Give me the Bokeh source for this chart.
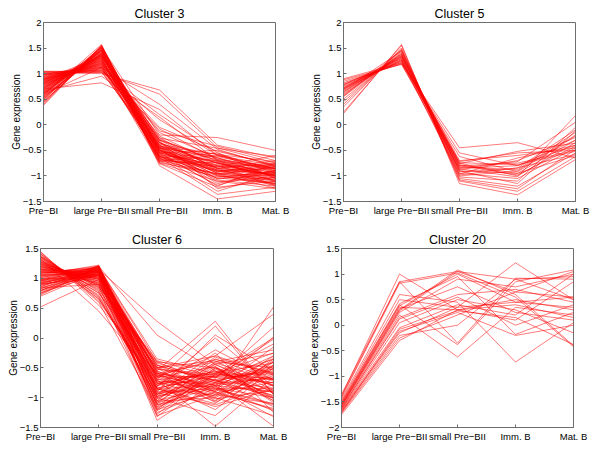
from bokeh.plotting import figure
from bokeh.models import FixedTicker, LinearAxis, Range1d
from bokeh.layouts import column, row
from bokeh.embed import file_html
from bokeh.resources import INLINE

stages = ["Pre−BI", "large Pre−BII", "small Pre−BII", "Imm. B", "Mat. B"]
stage_pos = [1, 2, 3, 4, 5]

# each row: [Pre-BI, large Pre-BII, small Pre-BII, Imm. B, Mat. B]
cluster3 = [
    [0.40, 1.55, -0.55, -0.80, -1.00], [0.45, 1.50, -0.45, -0.95, -0.85],
    [0.50, 1.48, -0.60, -0.70, -1.10], [0.55, 1.45, -0.50, -1.05, -0.90],
    [0.60, 1.42, -0.35, -0.85, -1.20], [0.62, 1.40, -0.70, -0.60, -0.80],
    [0.65, 1.38, -0.40, -0.75, -1.00], [0.68, 1.35, -0.55, -1.20, -0.75],
    [0.70, 1.33, -0.25, -0.90, -0.95], [0.72, 1.30, -0.65, -0.55, -1.05],
    [0.75, 1.28, -0.45, -1.00, -1.15], [0.78, 1.25, -0.30, -0.70, -0.85],
    [0.80, 1.22, -0.50, -0.85, -0.70], [0.82, 1.20, -0.75, -1.10, -1.25],
    [0.85, 1.18, -0.15, -0.65, -0.90], [0.88, 1.15, -0.40, -0.95, -1.00],
    [0.90, 1.12, -0.55, -0.50, -0.80], [0.92, 1.10, -0.35, -0.80, -1.10],
    [0.95, 1.08, -0.60, -1.30, -0.95], [0.98, 1.05, 0.10, -0.60, -0.85],
    [1.00, 1.03, -0.45, -0.75, -1.05], [1.02, 1.00, 0.68, -0.40, -0.65],
    [1.05, 1.02, 0.60, -0.45, -0.75], [0.70, 0.82, 0.30, -0.60, -0.90],
    [0.65, 0.95, 0.15, -0.70, -1.00], [0.58, 1.57, -0.80, -1.45, -1.30],
    [0.48, 1.52, -0.20, -0.25, -0.50], [0.52, 1.46, -0.65, -0.90, -1.15],
    [0.74, 1.36, -0.48, -1.15, -0.88], [0.86, 1.26, -0.38, -0.58, -0.72],
    [0.94, 1.16, -0.52, -0.88, -1.08], [0.66, 1.44, -0.58, -0.78, -0.98],
    [0.76, 1.32, -0.42, -0.68, -0.82], [0.84, 1.24, -0.62, -0.98, -1.18],
    [0.42, 1.54, -0.72, -1.02, -0.92], [0.96, 1.14, -0.05, -0.52, -0.78],
    [0.56, 1.40, -0.32, -1.25, -1.02], [0.80, 1.30, -0.68, -0.82, -0.60],
    [1.04, 1.06, 0.20, -0.55, -0.95], [0.90, 1.20, -0.28, -0.72, -1.12],
    [0.62, 1.50, -0.46, -0.62, -0.86], [0.72, 1.42, -0.56, -1.08, -1.20],
    [0.88, 1.34, -0.36, -0.92, -0.76], [0.98, 1.18, -0.12, -0.42, -0.70],
    [0.46, 1.46, -0.74, -0.96, -1.06], [0.60, 1.12, 0.40, -0.48, -0.82],
    [0.82, 1.36, -0.64, -1.36, -1.22], [0.54, 1.38, -0.44, -0.86, -0.96],
    [0.38, 1.56, -0.62, -0.88, -1.12], [0.44, 1.53, -0.52, -0.74, -0.94],
    [0.50, 1.51, -0.40, -1.12, -1.02], [0.53, 1.49, -0.68, -0.82, -0.78],
    [0.57, 1.47, -0.48, -0.94, -1.16], [0.61, 1.45, -0.30, -0.66, -0.92],
    [0.64, 1.41, -0.62, -1.00, -1.08], [0.67, 1.39, -0.50, -0.72, -0.86],
    [0.71, 1.37, -0.70, -0.96, -1.24], [0.73, 1.34, -0.34, -0.84, -0.98],
    [0.77, 1.31, -0.58, -1.18, -0.90], [0.79, 1.27, -0.44, -0.64, -1.04],
    [0.83, 1.23, -0.54, -0.90, -0.84], [0.87, 1.21, -0.22, -0.76, -0.94],
    [0.89, 1.17, -0.66, -1.04, -1.14], [0.93, 1.13, -0.42, -0.58, -0.88],
    [0.97, 1.10, -0.30, -0.86, -0.74], [1.01, 1.07, -0.08, -0.68, -1.00],
    [1.03, 1.04, -0.50, -0.98, -0.82], [0.99, 1.12, -0.62, -0.80, -1.18],
    [0.69, 1.46, -0.76, -1.22, -1.10], [0.81, 1.33, -0.26, -0.46, -0.62],
    [0.91, 1.25, -0.46, -1.06, -0.96], [0.59, 1.52, -0.54, -0.92, -0.80],
    [0.85, 1.29, -0.72, -0.74, -1.02],
]

cluster5 = [
    [0.22, 1.57, -1.15, -1.37, -0.68], [0.25, 1.55, -1.10, -1.30, -0.62],
    [0.35, 1.50, -1.05, -1.20, -0.55], [0.40, 1.48, -0.95, -1.05, -0.45],
    [0.45, 1.45, -0.90, -0.95, -0.30], [0.50, 1.42, -0.85, -0.80, -0.40],
    [0.55, 1.40, -1.00, -0.90, -0.20], [0.58, 1.38, -0.80, -0.75, -0.50],
    [0.60, 1.36, -0.75, -1.00, -0.35], [0.62, 1.35, -0.92, -0.85, -0.10],
    [0.65, 1.33, -0.70, -0.60, -0.45], [0.67, 1.32, -0.88, -0.70, -0.25],
    [0.70, 1.30, -0.78, -0.95, -0.60], [0.72, 1.28, -1.02, -1.10, -0.05],
    [0.74, 1.27, -0.72, -0.55, -0.50], [0.76, 1.25, -0.82, -0.88, -0.15],
    [0.78, 1.24, -0.96, -0.65, -0.40], [0.80, 1.22, -0.55, -0.80, -0.30],
    [0.82, 1.20, -0.45, -0.35, -0.65], [0.85, 1.19, -0.86, -1.02, 0.18],
    [0.88, 1.18, -0.74, -0.78, -0.52], [0.90, 1.21, -0.62, -0.92, -0.22],
    [0.68, 1.44, -1.08, -1.25, -0.48], [0.64, 1.38, -0.84, -0.72, 0.05],
    [0.56, 1.46, -0.98, -0.84, -0.58], [0.72, 1.34, -0.76, -0.52, -0.36],
    [0.78, 1.30, -0.90, -1.15, -0.12], [0.70, 1.26, -0.80, -0.98, -0.42],
]

cluster6 = [
    [1.45, 0.55, -0.60, -0.90, -1.20], [1.42, 0.60, -1.20, -0.50, -0.80],
    [1.40, 0.65, -0.85, -1.10, -0.40], [1.38, 0.70, -1.00, -0.70, -1.00],
    [1.36, 0.75, -0.50, -0.30, -0.60], [1.35, 0.80, -1.30, -0.95, -1.10],
    [1.33, 0.45, -0.70, -0.60, 0.00], [1.32, 0.85, -0.40, -0.80, -0.90],
    [1.30, 0.88, -1.10, -0.40, -0.50], [1.28, 0.90, -0.65, -1.00, -1.30],
    [1.27, 0.92, -0.95, -0.65, -0.75], [1.25, 0.95, -0.55, 0.28, -0.95],
    [1.24, 0.98, -1.38, -0.75, -0.30], [1.22, 1.00, -0.80, -0.55, -1.05],
    [1.20, 1.02, -0.45, -0.90, 0.52], [1.18, 1.05, -1.05, -0.35, -0.70],
    [1.16, 1.08, -0.75, -1.20, -0.45], [1.15, 1.10, -0.60, -0.70, -1.15],
    [1.13, 1.12, -0.90, 0.05, -0.55], [1.12, 1.15, -1.25, -0.85, -0.85],
    [1.10, 1.18, -0.35, -0.60, -0.25], [1.08, 1.20, -0.70, -1.48, -0.65],
    [1.06, 1.22, -1.15, -0.50, -1.00], [1.05, 1.18, -0.85, -0.80, 0.02],
    [1.03, 1.15, 0.28, -0.45, -0.80], [1.02, 1.12, -0.50, -1.05, -0.35],
    [1.00, 1.10, -0.95, -0.25, -1.25], [0.98, 1.08, -0.65, -0.65, -0.60],
    [0.96, 1.05, -1.20, -0.90, -0.40], [0.95, 1.20, 0.05, -0.55, -0.90],
    [0.93, 1.15, -0.80, -0.20, -0.70], [0.92, 1.10, -0.45, -0.75, -1.48],
    [0.90, 1.18, -1.00, -1.30, -0.50], [0.88, 1.12, -0.60, -0.40, -0.20],
    [0.86, 1.20, -0.90, -0.85, -1.10], [0.85, 1.05, -1.32, -0.60, -0.75],
    [0.82, 1.22, -0.70, 0.20, -0.95], [0.80, 1.15, -0.55, -0.95, -0.30],
    [0.78, 1.10, -1.10, -0.70, -0.55], [0.75, 1.18, -0.40, -0.50, -1.05],
    [0.72, 1.20, -0.85, -1.15, -0.85], [0.70, 1.12, -0.65, -0.30, 0.40],
    [0.52, 0.98, -1.05, -0.80, -0.65], [1.44, 0.62, -0.78, -0.58, -0.42],
    [1.34, 0.72, -0.92, -0.88, -0.15], [1.26, 0.82, -0.62, -1.02, -0.88],
    [1.19, 0.96, -1.18, -0.62, -0.58], [1.11, 1.04, -0.48, -0.92, -1.18],
    [1.04, 1.14, -0.88, -0.42, -0.72], [0.97, 1.16, -0.72, -0.78, -0.48],
    [0.89, 1.08, -1.28, -0.52, -0.98], [0.83, 1.14, -0.58, -1.08, -0.62],
    [0.76, 1.06, -0.98, -0.68, 0.18], [1.29, 0.86, -0.42, -0.72, -0.52],
    [1.21, 0.94, -0.82, 0.00, -0.82], [1.14, 1.00, -1.02, -0.48, -1.08],
    [1.07, 1.06, -0.68, -0.98, -0.38], [0.99, 1.02, -0.52, -0.62, -0.68],
    [0.91, 1.00, -0.76, -0.82, -1.22], [1.37, 0.78, -1.08, -0.44, -0.92],
    [1.23, 0.90, -0.38, -0.66, -0.02], [1.09, 1.16, -0.92, -1.12, -0.78],
    [0.94, 1.04, -0.64, -0.36, -0.58], [0.84, 0.90, -0.74, -0.74, -0.46],
    [1.41, 0.68, -0.98, -0.76, -0.68], [1.31, 0.76, -0.66, -0.48, -1.02],
    [1.24, 0.84, -1.12, -0.82, -0.34], [1.17, 0.92, -0.52, -0.66, -0.92],
    [1.12, 1.02, -0.86, -0.96, -0.60], [1.05, 1.10, -1.22, -0.58, -0.78],
    [1.01, 1.18, -0.62, -0.86, -1.12], [0.96, 1.12, -0.94, -0.44, -0.26],
    [0.90, 1.06, -0.46, -0.72, -0.84], [0.86, 1.16, -1.06, -1.00, -0.50],
    [0.80, 1.08, -0.76, -0.56, -0.70], [0.74, 1.14, -0.56, -0.84, -1.00],
    [1.36, 0.66, -0.84, -0.62, -0.10], [1.27, 0.88, -1.16, -0.74, -0.96],
    [1.20, 0.98, -0.72, -1.06, -0.46], [1.15, 1.06, -0.98, -0.32, -0.62],
    [1.09, 1.12, -0.58, -0.80, -1.32], [0.98, 1.20, -0.84, -0.64, -0.36],
    [0.92, 1.14, -1.12, -0.92, -0.74], [0.79, 1.18, -0.50, -0.38, -0.88],
]

cluster20 = [
    [-1.75, -0.30, 0.30, 0.50, 0.30], [-1.72, -0.25, 0.20, 0.65, 1.05],
    [-1.70, -0.20, 0.00, 0.90, 0.95], [-1.68, -0.15, 0.35, 0.45, 0.55],
    [-1.66, -0.12, 0.25, -0.20, 0.00], [-1.65, -0.05, 0.40, 0.20, 1.00],
    [-1.64, 0.05, 0.50, 0.30, -0.15], [-1.62, 0.15, 0.60, 0.70, 0.45],
    [-1.60, 0.20, -0.62, 0.35, 0.20], [-1.58, 0.28, 1.05, 0.90, 0.50],
    [-1.57, 0.30, 1.08, 0.60, -0.40], [-1.55, 0.32, 0.75, 0.25, 0.10],
    [-1.55, 0.35, 0.30, 0.10, 0.85], [-1.53, 0.38, 1.00, 0.45, 0.35],
    [-1.52, 0.40, -0.38, 0.85, 1.08], [-1.50, 0.42, 0.95, -0.18, 0.25],
    [-1.48, 0.50, 0.35, 1.22, 0.50], [-1.45, 0.60, 0.45, -0.72, 0.05],
    [-1.42, 0.82, 1.02, 0.55, -0.42], [-1.40, 0.85, -0.35, 0.92, 0.90],
    [-1.38, 1.00, 0.30, 0.40, 0.15], [-1.35, 0.85, 1.05, 0.65, 0.55],
    [-1.62, 0.12, 0.55, 0.00, 0.40], [-1.58, 0.25, 0.90, 0.75, 1.00],
    [-1.70, -0.08, 0.28, 0.15, -0.38],
]

titles = ["Cluster 3", "Cluster 5", "Cluster 6", "Cluster 20"]
y_limits = [(-1.5, 2.0), (-1.5, 2.0), (-1.5, 1.5), (-2.0, 1.5)]

FONT = "Liberation Sans"
AX = "#6e6e6e"


def fmt(v):
    return ("%g" % v).replace("-", "−")


def make_panel(title, profiles, ylim, w, h, bl, br, bt, bb):
    y0, y1 = ylim
    p = figure(width=w, height=h, x_range=Range1d(1, 5), y_range=Range1d(y0, y1),
               output_backend="svg", toolbar_location=None,
               x_axis_location=None, y_axis_location=None,
               min_border_left=bl, min_border_right=br,
               min_border_top=bt, min_border_bottom=bb)
    p.grid.visible = False
    p.background_fill_color = "white"
    p.border_fill_color = "white"
    p.outline_line_color = AX

    p.title.text = title
    p.title.align = "center"
    p.title.text_font = FONT
    p.title.text_font_size = "12.5px"
    p.title.text_font_style = "normal"
    p.title.text_color = "black"
    p.title.standoff = 3

    yt = []
    v = y0
    while v <= y1 + 1e-9:
        yt.append(round(v, 2))
        v += 0.5

    def style(ax):
        ax.axis_line_color = AX
        ax.major_tick_line_color = AX
        ax.major_tick_in = 3
        ax.major_tick_out = 0
        ax.minor_tick_line_color = None
        ax.major_label_text_font = FONT
        ax.major_label_text_color = "black"
        ax.major_label_text_font_size = "9.5px"
        ax.major_label_standoff = 2

    xb = LinearAxis(ticker=FixedTicker(ticks=stage_pos),
                    major_label_overrides={i: s for i, s in zip(stage_pos, stages)})
    style(xb)
    xb.major_label_standoff = 3
    p.add_layout(xb, "below")
    yl = LinearAxis(ticker=FixedTicker(ticks=yt),
                    major_label_overrides={t: fmt(t) for t in yt},
                    axis_label="Gene expression")
    style(yl)
    yl.axis_label_text_font = FONT
    yl.axis_label_text_font_size = "10px"
    yl.axis_label_text_font_style = "normal"
    yl.axis_label_text_color = "black"
    yl.axis_label_standoff = -2
    p.add_layout(yl, "left")

    xs = [stage_pos for _ in profiles]
    p.multi_line(xs, profiles, line_color="red", line_width=0.7, line_alpha=0.75)
    return p


p1 = make_panel(titles[0], cluster3, y_limits[0], 300, 227, 43, 25, 22, 26)
p2 = make_panel(titles[1], cluster5, y_limits[1], 300, 227, 43, 25, 22, 26)
p3 = make_panel(titles[2], cluster6, y_limits[2], 300, 227, 40, 27, 21, 27)
p4 = make_panel(titles[3], cluster20, y_limits[3], 300, 227, 41, 27, 21, 27)

layout = column(row(p1, p2), row(p3, p4))
open("out.html", "w").write(file_html(layout, INLINE))
